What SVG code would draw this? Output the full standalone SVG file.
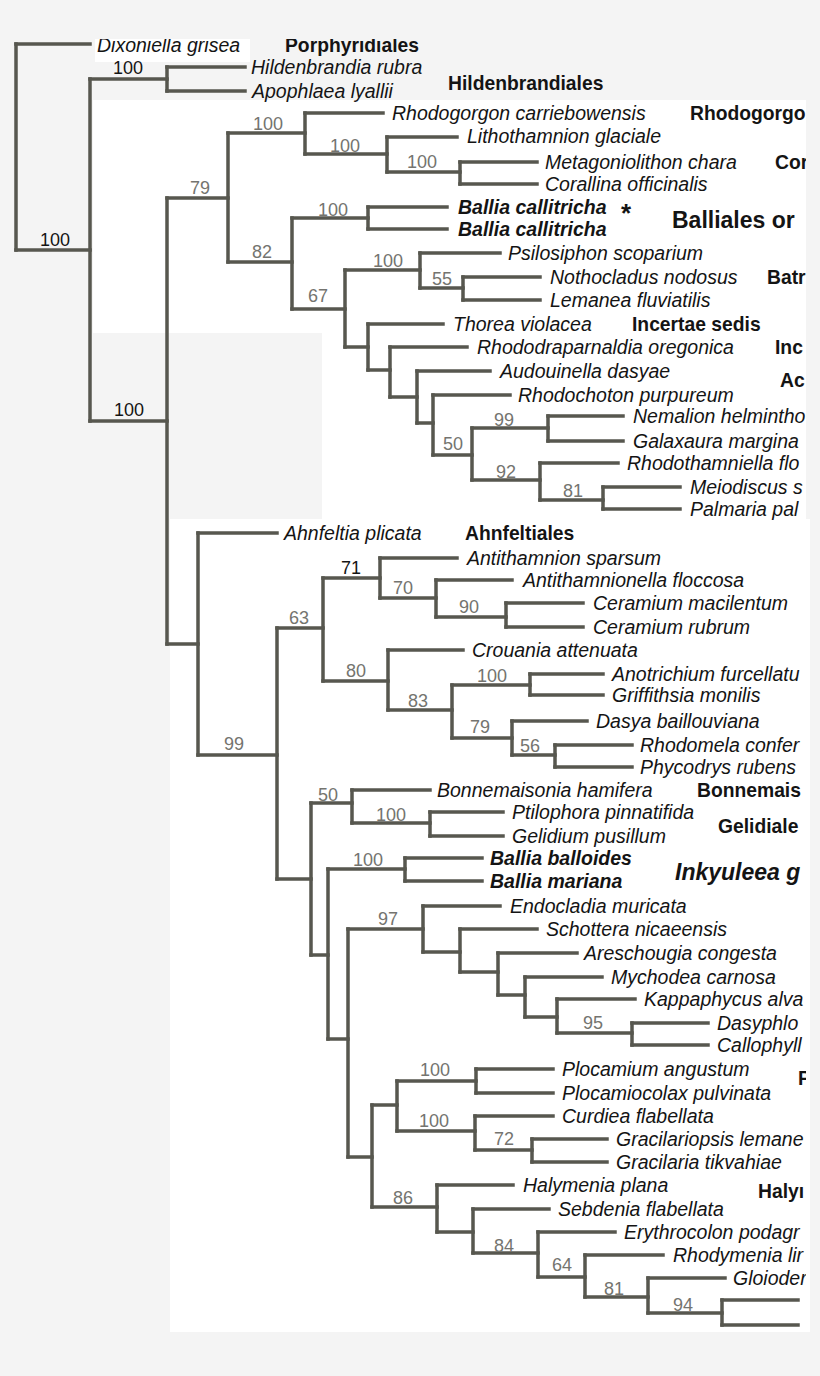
<svg xmlns="http://www.w3.org/2000/svg" width="820" height="1376" viewBox="0 0 820 1376">
<defs>
<clipPath id="rc"><rect x="0" y="39" width="806" height="1337"/></clipPath>
<style>
.br{fill:none;stroke:#57574f;stroke-width:3.5;stroke-linecap:square}
.tx{font-family:"Liberation Sans",Arial,sans-serif;font-size:19.5px;font-style:italic;fill:#141414}
.bi{font-family:"Liberation Sans",Arial,sans-serif;font-size:19.5px;font-style:italic;font-weight:bold;fill:#141414}
.cl{font-family:"Liberation Sans",Arial,sans-serif;font-size:19.3px;font-weight:bold;fill:#141414}
.big{font-family:"Liberation Sans",Arial,sans-serif;font-size:23px;font-weight:bold;fill:#141414}
.bs{font-family:"Liberation Sans",Arial,sans-serif;font-size:18px;fill:#74746f}
.bk{font-family:"Liberation Sans",Arial,sans-serif;font-size:18px;fill:#141414}
</style>
</defs>
<rect x="0" y="0" width="820" height="1376" fill="#f4f4f4"/>
<rect x="93" y="100" width="713" height="233" fill="#ffffff"/>
<rect x="322" y="333" width="484" height="186" fill="#ffffff"/>
<rect x="170" y="519" width="640" height="813" fill="#ffffff"/>
<rect x="95" y="39" width="155" height="23" fill="#ffffff"/>
<g id="connectors">
<path class="br" d="M16,44V250 M90,79V421 M167,67V91 M167,198V644 M228,133V262 M305,113V154 M387,137V172 M460,162V184 M292,218V309 M368,207V229 M345,270V347 M420,253V288 M463,277V300 M368,324V370 M390,347V397 M417,371V423 M433,395V455 M472,428V480 M548,416V441 M540,463V500 M603,487V509 M198,533V755 M277,628V879 M323,578V681 M380,558V598 M436,580V617 M506,603V627 M388,650V710 M452,685V738 M530,674V695 M512,721V755 M555,745V767 M311,803V955 M352,790V823 M430,812V836 M328,869V1039 M405,858V881 M348,929V1157 M423,906V952 M460,929V972 M498,953V995 M525,977V1017 M557,999V1033 M632,1023V1045 M372,1105V1207 M397,1081V1131 M476,1069V1093 M475,1116V1150 M532,1139V1162 M437,1185V1232 M473,1209V1253 M538,1232V1277 M585,1255V1297 M648,1278V1313 M722,1300V1325"/>
<path class="br" d="M16,44H90 M16,250H90 M90,79H167 M167,67H245 M167,91H245 M90,421H167 M167,198H228 M228,133H305 M305,113H383 M305,154H387 M387,137H457 M387,172H460 M460,162H537 M460,184H537 M228,262H292 M292,218H368 M368,207H447 M368,229H447 M292,309H345 M345,270H420 M420,253H500 M420,288H463 M463,277H540 M463,300H540 M345,347H368 M368,324H443 M368,370H390 M390,347H467 M390,397H417 M417,371H490 M417,423H433 M433,395H510 M433,455H472 M472,428H548 M548,416H623 M548,441H623 M472,480H540 M540,463H618 M540,500H603 M603,487H680 M603,509H680"/>
<path class="br" d="M167,644H198 M198,533H277 M198,755H277 M277,628H323 M323,578H380 M380,558H457 M380,598H436 M436,580H512 M436,617H506 M506,603H583 M506,627H583 M323,681H388 M388,650H463 M388,710H452 M452,685H530 M530,674H603 M530,695H603 M452,738H512 M512,721H587 M512,755H555 M555,745H632 M555,767H632 M277,879H311 M311,803H352 M352,790H430 M352,823H430 M430,812H503 M430,836H503 M311,955H328 M328,869H405 M405,858H482 M405,881H482 M328,1039H348 M348,929H423 M423,906H500 M423,952H460 M460,929H537 M460,972H498 M498,953H577 M498,995H525 M525,977H602 M525,1017H557 M557,999H635 M557,1033H632 M632,1023H708 M632,1045H708 M348,1157H372 M372,1105H397 M397,1081H476 M476,1069H553 M476,1093H553 M397,1131H475 M475,1116H553 M475,1150H532 M532,1139H607 M532,1162H607 M372,1207H437 M437,1185H513 M437,1232H473 M473,1209H549 M473,1253H538 M538,1232H615 M538,1277H585 M585,1255H663 M585,1297H648 M648,1278H725 M648,1313H722 M722,1300H798 M722,1325H798"/>
</g>
<g id="support">
<text class="bk" x="40" y="246">100</text>
<text class="bk" x="113" y="74">100</text>
<text class="bk" x="114" y="416">100</text>
<text class="bs" x="190" y="194">79</text>
<text class="bs" x="253" y="130">100</text>
<text class="bs" x="330" y="152">100</text>
<text class="bs" x="407" y="168">100</text>
<text class="bs" x="318" y="216">100</text>
<text class="bs" x="252" y="258">82</text>
<text class="bs" x="308" y="302">67</text>
<text class="bs" x="373" y="267">100</text>
<text class="bs" x="432" y="285">55</text>
<text class="bs" x="443" y="450">50</text>
<text class="bs" x="494" y="426">99</text>
<text class="bs" x="496" y="478">92</text>
<text class="bs" x="563" y="497">81</text>
<text class="bs" x="224" y="750">99</text>
<text class="bs" x="289" y="624">63</text>
<text class="bk" x="341" y="574">71</text>
<text class="bs" x="393" y="594">70</text>
<text class="bs" x="459" y="613">90</text>
<text class="bs" x="346" y="677">80</text>
<text class="bs" x="408" y="707">83</text>
<text class="bs" x="477" y="682">100</text>
<text class="bs" x="470" y="733">79</text>
<text class="bs" x="520" y="752">56</text>
<text class="bs" x="318" y="801">50</text>
<text class="bs" x="376" y="821">100</text>
<text class="bs" x="353" y="866">100</text>
<text class="bs" x="378" y="925">97</text>
<text class="bs" x="583" y="1029">95</text>
<text class="bs" x="420" y="1076">100</text>
<text class="bs" x="419" y="1127">100</text>
<text class="bs" x="494" y="1145">72</text>
<text class="bs" x="393" y="1204">86</text>
<text class="bs" x="494" y="1252">84</text>
<text class="bs" x="552" y="1271">64</text>
<text class="bs" x="604" y="1295">81</text>
<text class="bs" x="673" y="1311">94</text>
</g>
<g clip-path="url(#rc)">
<g id="taxa">
<g id="t-dixoniella"><text class="tx" x="97" y="52">Dixoniella grisea</text></g>
<g id="t-hildenbrandia"><text class="tx" x="251" y="74">Hildenbrandia rubra</text></g>
<g id="t-apophlaea"><text class="tx" x="252" y="98">Apophlaea lyallii</text></g>
<g id="t-rhodogorgon"><text class="tx" x="392" y="120">Rhodogorgon carriebowensis</text></g>
<g id="t-lithothamnion"><text class="tx" x="467" y="143">Lithothamnion glaciale</text></g>
<g id="t-metagoniolithon"><text class="tx" x="545" y="169">Metagoniolithon chara</text></g>
<g id="t-corallina"><text class="tx" x="545" y="191">Corallina officinalis</text></g>
<g id="t-ballia1"><text class="bi" x="458" y="214">Ballia callitricha</text><text class="bi" x="621" y="222" style="font-style:normal;font-size:26px">*</text></g>
<g id="t-ballia2"><text class="bi" x="458" y="236">Ballia callitricha</text></g>
<g id="t-psilosiphon"><text class="tx" x="508" y="260">Psilosiphon scoparium</text></g>
<g id="t-nothocladus"><text class="tx" x="550" y="284">Nothocladus nodosus</text></g>
<g id="t-lemanea"><text class="tx" x="550" y="307">Lemanea fluviatilis</text></g>
<g id="t-thorea"><text class="tx" x="453" y="331">Thorea violacea</text></g>
<g id="t-rhododraparnaldia"><text class="tx" x="477" y="354">Rhododraparnaldia oregonica</text></g>
<g id="t-audouinella"><text class="tx" x="500" y="378">Audouinella dasyae</text></g>
<g id="t-rhodochoton"><text class="tx" x="518" y="402">Rhodochoton purpureum</text></g>
<g id="t-nemalion"><text class="tx" x="633" y="423">Nemalion helmintho</text></g>
<g id="t-galaxaura"><text class="tx" x="633" y="448">Galaxaura margina</text></g>
<g id="t-rhodothamniella"><text class="tx" x="627" y="470">Rhodothamniella flo</text></g>
<g id="t-meiodiscus"><text class="tx" x="690" y="494">Meiodiscus s</text></g>
<g id="t-palmaria"><text class="tx" x="690" y="516">Palmaria pal</text></g>
<g id="t-ahnfeltia"><text class="tx" x="284" y="540">Ahnfeltia plicata</text></g>
<g id="t-antithamnion"><text class="tx" x="467" y="565">Antithamnion sparsum</text></g>
<g id="t-antithamnionella"><text class="tx" x="523" y="587">Antithamnionella floccosa</text></g>
<g id="t-ceramium1"><text class="tx" x="593" y="610">Ceramium macilentum</text></g>
<g id="t-ceramium2"><text class="tx" x="593" y="634">Ceramium rubrum</text></g>
<g id="t-crouania"><text class="tx" x="472" y="657">Crouania attenuata</text></g>
<g id="t-anotrichium"><text class="tx" x="612" y="681">Anotrichium furcellatu</text></g>
<g id="t-griffithsia"><text class="tx" x="612" y="702">Griffithsia monilis</text></g>
<g id="t-dasya"><text class="tx" x="596" y="728">Dasya baillouviana</text></g>
<g id="t-rhodomela"><text class="tx" x="640" y="752">Rhodomela confer</text></g>
<g id="t-phycodrys"><text class="tx" x="640" y="774">Phycodrys rubens</text></g>
<g id="t-bonnemaisonia"><text class="tx" x="437" y="797">Bonnemaisonia hamifera</text></g>
<g id="t-ptilophora"><text class="tx" x="512" y="819">Ptilophora pinnatifida</text></g>
<g id="t-gelidium"><text class="tx" x="512" y="843">Gelidium pusillum</text></g>
<g id="t-balloides"><text class="bi" x="490" y="865">Ballia balloides</text></g>
<g id="t-mariana"><text class="bi" x="490" y="888">Ballia mariana</text></g>
<g id="t-endocladia"><text class="tx" x="510" y="913">Endocladia muricata</text></g>
<g id="t-schottera"><text class="tx" x="546" y="936">Schottera nicaeensis</text></g>
<g id="t-areschougia"><text class="tx" x="584" y="960">Areschougia congesta</text></g>
<g id="t-mychodea"><text class="tx" x="611" y="984">Mychodea carnosa</text></g>
<g id="t-kappaphycus"><text class="tx" x="644" y="1006">Kappaphycus alva</text></g>
<g id="t-dasyphloea"><text class="tx" x="717" y="1030">Dasyphlo</text></g>
<g id="t-callophyllis"><text class="tx" x="717" y="1052">Callophyll</text></g>
<g id="t-plocamium"><text class="tx" x="562" y="1076">Plocamium angustum</text></g>
<g id="t-plocamiocolax"><text class="tx" x="562" y="1100">Plocamiocolax pulvinata</text></g>
<g id="t-curdiea"><text class="tx" x="562" y="1123">Curdiea flabellata</text></g>
<g id="t-gracilariopsis"><text class="tx" x="616" y="1146">Gracilariopsis lemane</text></g>
<g id="t-gracilaria"><text class="tx" x="616" y="1169">Gracilaria tikvahiae</text></g>
<g id="t-halymenia"><text class="tx" x="523" y="1192">Halymenia plana</text></g>
<g id="t-sebdenia"><text class="tx" x="558" y="1216">Sebdenia flabellata</text></g>
<g id="t-erythrocolon"><text class="tx" x="624" y="1239">Erythrocolon podagr</text></g>
<g id="t-rhodymenia"><text class="tx" x="673" y="1262">Rhodymenia lir</text></g>
<g id="t-gloiodermatis"><text class="tx" x="733" y="1285">Gloioder</text></g>
</g>
<g id="clades">
<text class="cl" x="285" y="52">Porphyridiales</text>
<text class="cl" x="448" y="90">Hildenbrandiales</text>
<text class="cl" x="690" y="120">Rhodogorgo</text>
<text class="cl" x="775" y="169">Cor</text>
<text class="big" x="672" y="228">Balliales or</text>
<text class="cl" x="767" y="284">Batr</text>
<text class="cl" x="632" y="331">Incertae sedis</text>
<text class="cl" x="775" y="354">Inc</text>
<text class="cl" x="780" y="387">Ac</text>
<text class="cl" x="465" y="540">Ahnfeltiales</text>
<text class="cl" x="697" y="797">Bonnemais</text>
<text class="cl" x="718" y="833">Gelidiale</text>
<text class="big" x="675" y="880" style="font-style:italic">Inkyuleea  g</text>
<text class="cl" x="798" y="1085">P</text>
<text class="cl" x="758" y="1198">Halyı</text>
</g>
</g>
</svg>
